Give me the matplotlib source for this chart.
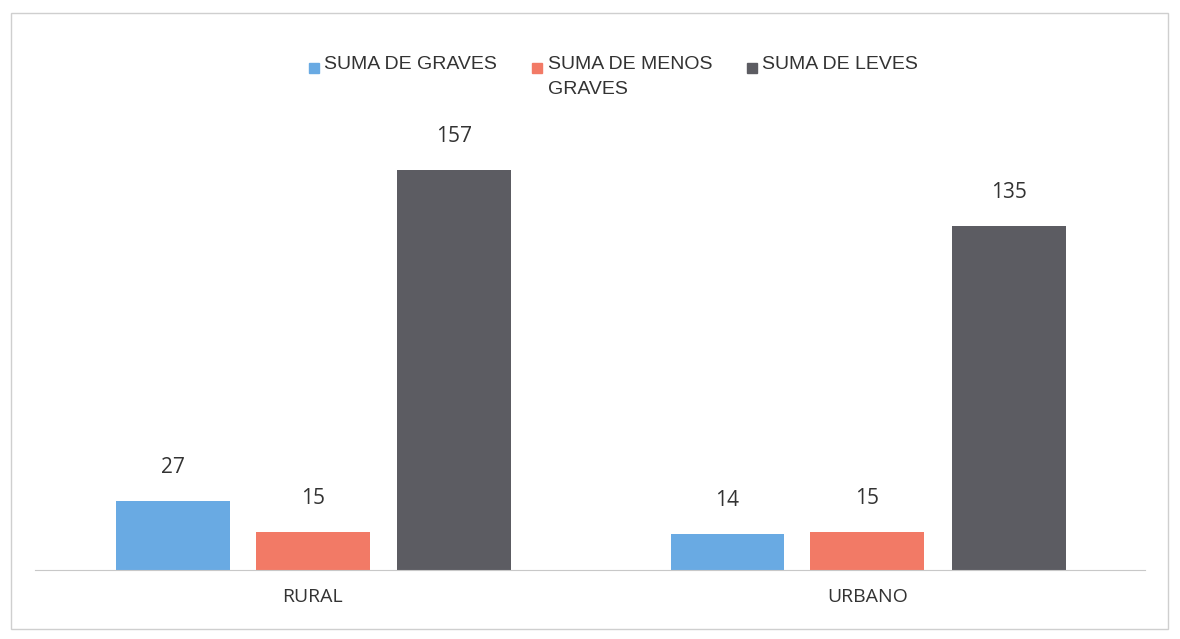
import matplotlib.pyplot as plt
from matplotlib.patches import Rectangle

categories = ['RURAL', 'URBANO']
series_names = ['SUMA DE GRAVES', 'SUMA DE MENOS\nGRAVES', 'SUMA DE LEVES']
graves = [27, 14]
menos_graves = [15, 15]
leves = [157, 135]

colors = ['#69aae3', '#f27a66', '#5c5c62']
values = [graves, menos_graves, leves]
offsets = [-0.252, 0, 0.255]

fig = plt.figure(figsize=(11.8, 6.39), dpi=100)
ax = fig.add_axes([0.03, 0.108, 0.94, 0.793])

for vals, off, col in zip(values, offsets, colors):
    xs = [i + off for i in range(len(categories))]
    bars = ax.bar(xs, vals, width=0.205, color=col)
    for b, v in zip(bars, vals):
        ax.text(b.get_x() + b.get_width() / 2, v + 9, str(v), ha='center', va='bottom',
                fontsize=15, family='Open Sans', color='#333333')

ax.set_xlim(-0.5, 1.5)
ax.set_ylim(0, 199)
ax.set_xticks(range(len(categories)))
ax.set_xticklabels(categories, fontsize=14, family='Open Sans', color='#333333')
ax.tick_params(axis='x', length=0, pad=13)
ax.set_yticks([])
for s in ['top', 'right', 'left']:
    ax.spines[s].set_visible(False)
ax.spines['bottom'].set_color('#c8c8c8')

# legend drawn by hand to keep the wrapped label top-aligned
leg_x = [0.262, 0.451, 0.633]
for name, col, lx in zip(series_names, colors, leg_x):
    fig.patches.append(Rectangle((lx, 0.885), 0.0085, 0.0165, transform=fig.transFigure,
                                 color=col))
    fig.text(lx + 0.013, 0.912, name, ha='left', va='top', fontsize=14,
             family='Liberation Sans', color='#333333', linespacing=1.6)

# outer chart border
fig.patches.append(Rectangle((0.009, 0.015), 0.981, 0.965, transform=fig.transFigure,
                             fill=False, edgecolor='#cfcfcf', linewidth=1))

fig.savefig('out.png', dpi=100, facecolor='white')
